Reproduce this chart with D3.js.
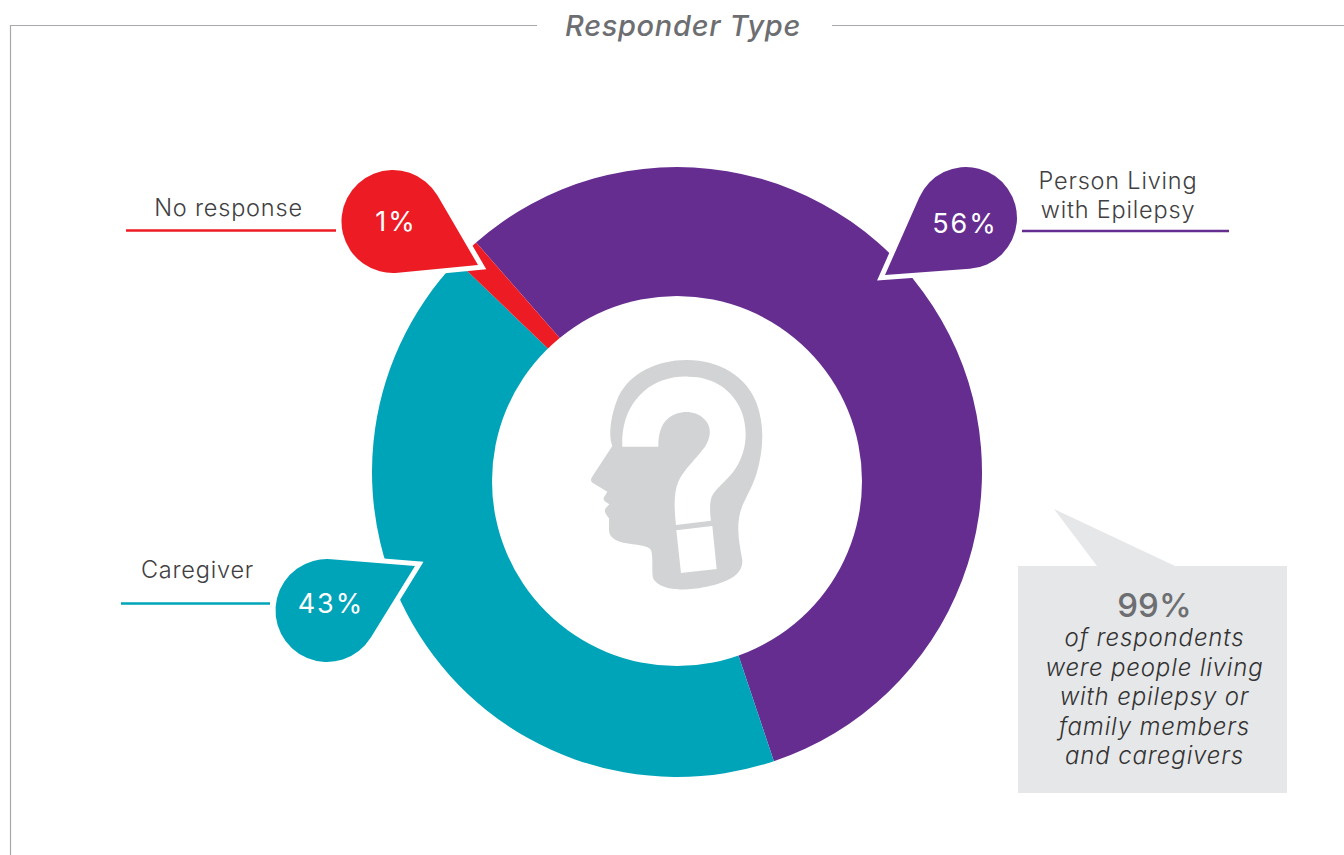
<!DOCTYPE html>
<html><head><meta charset="utf-8">
<script src="https://cdn.jsdelivr.net/npm/d3@7/dist/d3.min.js"></script>
<style>html,body{margin:0;padding:0;background:#fff;overflow:hidden}svg{display:block}text{font-family:Inter,"Open Sans",sans-serif}</style>
</head><body><svg id="c" width="1344" height="855"></svg>
<script>
const categories = ["Person Living with Epilepsy","Caregiver","No response"];
const shownPercents = [56,43,1];
const sliceShares = [56.3,42.3,1.4];
const colors = ["#662d91","#00a4b9","#ed1c24"];
const noteLines = ["of respondents","were people living","with epilepsy or","family members","and caregivers"];
const labelLines = [["Person Living","with Epilepsy"],["Caregiver"],["No response"]];

const svg = d3.select("#c");
const cx=677, cy=472, R=305, r=185, holeY=481;
const start=-41.2*Math.PI/180;

// frame
const gray="#6d6e71";
svg.append("path").attr("d","M537 25.5H10.5V855M832 25.5H1344").attr("fill","none").attr("stroke","#a7a9ac").attr("stroke-width",1.2);
svg.append("text").attr("x",683).attr("y",36).attr("text-anchor","middle").attr("font-size",29).attr("font-weight",500).attr("font-style","italic").attr("letter-spacing",0.7).attr("fill",gray).text("Responder Type");

// ring: the hole sits slightly below the centre of the outer circle
const pie=d3.pie().sort(null).startAngle(start).endAngle(start+2*Math.PI);
const arc=d3.arc().innerRadius(0).outerRadius(R);
const ring=svg.append("g").attr("transform",`translate(${cx},${cy})`);
ring.selectAll("path").data(pie(sliceShares)).join("path").attr("d",arc).attr("fill",(d,i)=>colors[i]);
svg.append("circle").attr("cx",cx).attr("cy",holeY).attr("r",r).attr("fill","#fff");

// callouts: bubble centre, radius, tip
const bubbles=[{c:[966,218],r:51,tip:[885,275]},{c:[327,610.5],r:51.5,tip:[415,566]},{c:[393,221.5],r:51.5,tip:[478,265]}];
function drop(b){
  const dx=b.tip[0]-b.c[0],dy=b.tip[1]-b.c[1],d=Math.hypot(dx,dy);
  const a=Math.atan2(dy,dx),t=Math.acos(b.r/d);
  const p1=[b.c[0]+b.r*Math.cos(a-t),b.c[1]+b.r*Math.sin(a-t)];
  const p2=[b.c[0]+b.r*Math.cos(a+t),b.c[1]+b.r*Math.sin(a+t)];
  return `M${p2}L${b.tip}L${p1}A${b.r} ${b.r} 0 1 0 ${p2}Z`;
}
const g=svg.append("g");
g.selectAll(".o").data(bubbles).join("path").attr("d",drop).attr("fill","#fff").attr("stroke","#fff").attr("stroke-width",10).attr("stroke-miterlimit",10);
g.selectAll(".f").data(bubbles).join("path").attr("d",drop).attr("fill",(d,i)=>colors[i]);
const pctPos=[[965,233],[331,613],[396,231]];
g.selectAll("text").data(shownPercents).join("text").attr("x",(d,i)=>pctPos[i][0]).attr("y",(d,i)=>pctPos[i][1]).attr("text-anchor","middle").attr("fill","#fff").attr("font-size",27).attr("font-weight",400).attr("letter-spacing",2).text(d=>d+"%");

// labels and leader rules
const rules=[[1022,1229,231],[121,270,603.5],[126,336,230.5]];
rules.forEach((q,i)=>svg.append("line").attr("x1",q[0]).attr("x2",q[1]).attr("y1",q[2]).attr("y2",q[2]).attr("stroke",colors[i]).attr("stroke-width",2.4));
const labelPos=[[1118,189],[197.5,578],[228.5,216]];
labelLines.forEach((ls,i)=>ls.forEach((t,j)=>svg.append("text").attr("x",labelPos[i][0]).attr("y",labelPos[i][1]+j*29).attr("text-anchor","middle").attr("font-size",23.5).attr("font-weight",300).attr("letter-spacing",0.8).attr("fill","#414042").text(t)));

// head icon
const head=svg.append("g").attr("transform","translate(580,350) scale(0.3333)");
head.append("path").attr("fill","#d1d3d4").attr("d","M97 288C85 260 90 200 115 140C150 70 230 30 320 30C420 30 500 80 530 160C555 230 550 300 530 370C515 420 490 450 480 490C468 540 480 590 487 630C490 680 430 700 370 712C310 725 230 720 218 680C215 650 220 620 213 600C205 585 170 585 130 578C100 570 88 560 87 540L87 505C80 495 70 485 77 475L88 463C75 455 67 450 72 442L82 425L40 400C30 392 32 388 38 378Z");
head.append("path").attr("fill","#fff").attr("d","M127 290C125 230 140 170 190 125C230 90 280 78 325 80C400 80 460 120 485 185C505 240 500 300 470 350C450 385 410 410 395 440C388 460 390 490 393 512L288 525C283 480 280 430 295 395C310 360 350 325 375 290C395 260 395 225 370 205C345 180 295 180 265 205C240 225 235 260 235 290Z");
head.append("path").attr("fill","#fff").attr("d","M289 541L397 528L410 657L303 669Z");

// note box
svg.append("path").attr("fill","#e6e7e8").attr("d","M1018 566H1097L1054 509L1175 566H1287V793H1018Z");
svg.append("text").attr("x",1154.5).attr("y",617).attr("text-anchor","middle").attr("font-size",33).attr("font-weight",500).attr("fill",gray).text("99%");
noteLines.forEach((t,i)=>svg.append("text").attr("x",1154.5).attr("y",646+i*29.5).attr("text-anchor","middle").attr("font-size",24).attr("font-weight",300).attr("font-style","italic").attr("letter-spacing",0.85).attr("fill","#333").text(t));
</script></body></html>
